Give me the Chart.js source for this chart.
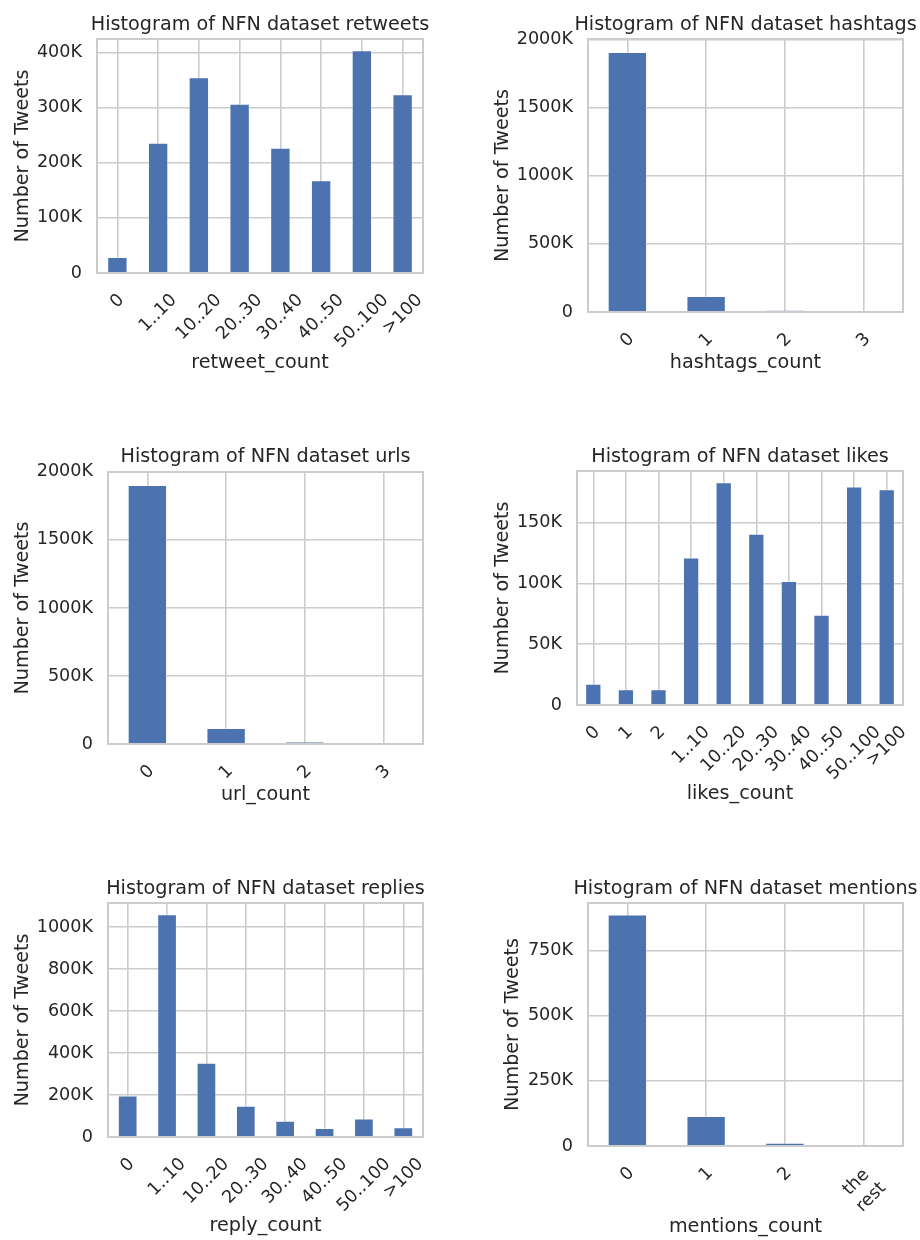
<!DOCTYPE html>
<html>
<head>
<meta charset="utf-8">
<script src="https://cdn.jsdelivr.net/npm/chart.js@4.4.0/dist/chart.umd.min.js"></script>
<style>
  body { margin: 0; background: #fff; }
  #page { position: relative; width: 920px; height: 1240px; }
  #page canvas { position: absolute; }
</style>
</head>
<body>
<div id="page"></div>
<script>
// values (tweet counts per bucket)
const retweetCategories = ['0', '1..10', '10..20', '20..30', '30..40', '40..50', '50..100', '>100'];
const retweetCounts = [29000, 236000, 355000, 307000, 227000, 168000, 404000, 324000];
const retweetTicks = [0, 100000, 200000, 300000, 400000];

const hashtagCategories = ['0', '1', '2', '3'];
const hashtagCounts = [1909000, 118000, 13000, 1500];
const hashtagTicks = [0, 500000, 1000000, 1500000, 2000000];

const urlCategories = ['0', '1', '2', '3'];
const urlCounts = [1904000, 118000, 15000, 1000];
const urlTicks = [0, 500000, 1000000, 1500000, 2000000];

const likeCategories = ['0', '1', '2', '1..10', '10..20', '20..30', '30..40', '40..50', '50..100', '>100'];
const likeCounts = [17600, 13000, 13000, 121500, 183500, 141000, 102000, 74400, 180000, 177700];
const likeTicks = [0, 50000, 100000, 150000];

const replyCategories = ['0', '1..10', '10..20', '20..30', '30..40', '40..50', '50..100', '>100'];
const replyCounts = [198000, 1061000, 353000, 149000, 77000, 43000, 88000, 46000];
const replyTicks = [0, 200000, 400000, 600000, 800000, 1000000];

const mentionCategories = ['0', '1', '2', 'the\nrest'];
const mentionCounts = [887000, 115000, 12000, 1000];
const mentionTicks = [0, 250000, 500000, 750000];

const FONT = '"DejaVu Sans", sans-serif';
const TEXT = '#262626';
const GRID = '#cccccc';
const BAR = '#4C72B0';
const LABEL_SIZE = 19.2;
const TICK_SIZE = 17.6;
const LABEL_LH = LABEL_SIZE * 1.2;
const MID = LABEL_SIZE * 0.297; // alphabetic baseline -> middle

// draws frame, centred title and matplotlib-style rotated x labels
const panelDecor = {
  id: 'panelDecor',
  afterDatasetsDraw(chart) {
    const { ctx, chartArea: a } = chart;
    ctx.save();
    ctx.strokeStyle = GRID;
    ctx.lineWidth = 2;
    ctx.strokeRect(a.left, a.top, a.right - a.left, a.bottom - a.top);
    ctx.restore();
  },
  afterDraw(chart, args, opts) {
    const { ctx, chartArea: a } = chart;
    const xs = chart.scales.x;
    ctx.save();
    ctx.fillStyle = TEXT;
    ctx.font = LABEL_SIZE + 'px ' + FONT;
    ctx.textAlign = 'center';
    ctx.textBaseline = 'alphabetic';
    ctx.fillText(opts.title, (a.left + a.right) / 2, opts.titleY);

    ctx.font = TICK_SIZE + 'px ' + FONT;
    ctx.textBaseline = 'middle';
    const lh = TICK_SIZE * 1.2;
    chart.data.labels.forEach((label, i) => {
      const lines = String(label).split('\n');
      const w = Math.max(...lines.map(l => ctx.measureText(l).width));
      const h = lines.length * lh;
      const half = (w + h) * Math.SQRT1_2 / 2;
      ctx.save();
      ctx.translate(xs.getPixelForTick(i), a.bottom + opts.tickPad + half);
      ctx.rotate(-Math.PI / 4);
      lines.forEach((l, k) => ctx.fillText(l, 0, (k - (lines.length - 1) / 2) * lh));
      ctx.restore();
    });
    ctx.restore();
  }
};

function makePanel(p) {
  const cell = p.cell, a = p.area;
  const canvas = document.createElement('canvas');
  canvas.width = cell.w;
  canvas.height = cell.h;
  canvas.style.left = cell.x + 'px';
  canvas.style.top = cell.y + 'px';
  document.getElementById('page').appendChild(canvas);

  const xHeight = p.xLabelY - MID - a.b + LABEL_LH / 2;
  const yWidth = a.l - cell.x;

  new Chart(canvas.getContext('2d'), {
    type: 'bar',
    data: {
      labels: p.categories,
      datasets: [{
        data: p.values,
        backgroundColor: BAR,
        borderColor: 'rgba(255,255,255,0.35)',
        borderWidth: 1,
        categoryPercentage: 1,
        barPercentage: 0.5
      }]
    },
    options: {
      responsive: false,
      animation: false,
      devicePixelRatio: 1,
      layout: {
        padding: {
          top: a.t - cell.y,
          left: 0,
          right: cell.x + cell.w - a.r,
          bottom: cell.y + cell.h - (a.b + xHeight)
        }
      },
      scales: {
        x: {
          type: 'category',
          offset: true,
          grid: { offset: false, color: GRID, lineWidth: 1.6, drawTicks: false },
          border: { display: false },
          ticks: { display: false, autoSkip: false },
          title: {
            display: true,
            text: p.xTitle,
            color: TEXT,
            font: { family: FONT, size: LABEL_SIZE, lineHeight: 1.2 },
            padding: 0
          },
          afterFit: s => { s.height = xHeight; }
        },
        y: {
          min: 0,
          max: Math.max(...p.values) * 1.05,
          grid: { color: GRID, lineWidth: 1.6, drawTicks: false },
          border: { display: false },
          ticks: {
            padding: 15,
            color: TEXT,
            font: { family: FONT, size: TICK_SIZE },
            callback: v => v === 0 ? '0' : (v / 1000) + 'K'
          },
          afterBuildTicks: s => { s.ticks = p.ticks.map(v => ({ value: v })); },
          title: {
            display: true,
            text: 'Number of Tweets',
            color: TEXT,
            font: { family: FONT, size: LABEL_SIZE, lineHeight: 1.2 },
            padding: { top: p.yLabelX - MID - cell.x - LABEL_LH / 2, bottom: 0 }
          },
          afterFit: s => { s.width = yWidth; }
        }
      },
      plugins: {
        legend: { display: false },
        tooltip: { enabled: false },
        panelDecor: { title: p.title, titleY: p.titleY - cell.y, tickPad: 17 }
      }
    },
    plugins: [panelDecor]
  });
}

const panels = [
  { title: 'Histogram of NFN dataset retweets', xTitle: 'retweet_count',
    categories: retweetCategories, values: retweetCounts, ticks: retweetTicks,
    cell: { x: 0, y: 0, w: 460, h: 420 }, area: { l: 97, t: 39, r: 423, b: 273 },
    titleY: 30, xLabelY: 369, yLabelX: 28.3 },
  { title: 'Histogram of NFN dataset hashtags', xTitle: 'hashtags_count',
    categories: hashtagCategories, values: hashtagCounts, ticks: hashtagTicks,
    cell: { x: 460, y: 0, w: 460, h: 420 }, area: { l: 588, t: 39, r: 903, b: 312 },
    titleY: 30, xLabelY: 369, yLabelX: 508.3 },
  { title: 'Histogram of NFN dataset urls', xTitle: 'url_count',
    categories: urlCategories, values: urlCounts, ticks: urlTicks,
    cell: { x: 0, y: 420, w: 460, h: 430 }, area: { l: 108, t: 472, r: 423, b: 744 },
    titleY: 462, xLabelY: 801, yLabelX: 28.3 },
  { title: 'Histogram of NFN dataset likes', xTitle: 'likes_count',
    categories: likeCategories, values: likeCounts, ticks: likeTicks,
    cell: { x: 460, y: 420, w: 460, h: 430 }, area: { l: 577, t: 471, r: 903, b: 705 },
    titleY: 462, xLabelY: 800, yLabelX: 508.3 },
  { title: 'Histogram of NFN dataset replies', xTitle: 'reply_count',
    categories: replyCategories, values: replyCounts, ticks: replyTicks,
    cell: { x: 0, y: 850, w: 460, h: 390 }, area: { l: 108, t: 903, r: 423, b: 1137 },
    titleY: 894, xLabelY: 1232, yLabelX: 28.3 },
  { title: 'Histogram of NFN dataset mentions', xTitle: 'mentions_count',
    categories: mentionCategories, values: mentionCounts, ticks: mentionTicks,
    cell: { x: 460, y: 850, w: 460, h: 390 }, area: { l: 588, t: 903, r: 903, b: 1146 },
    titleY: 894, xLabelY: 1233, yLabelX: 518.3 }
];

panels.forEach(makePanel);
</script>
</body>
</html>
